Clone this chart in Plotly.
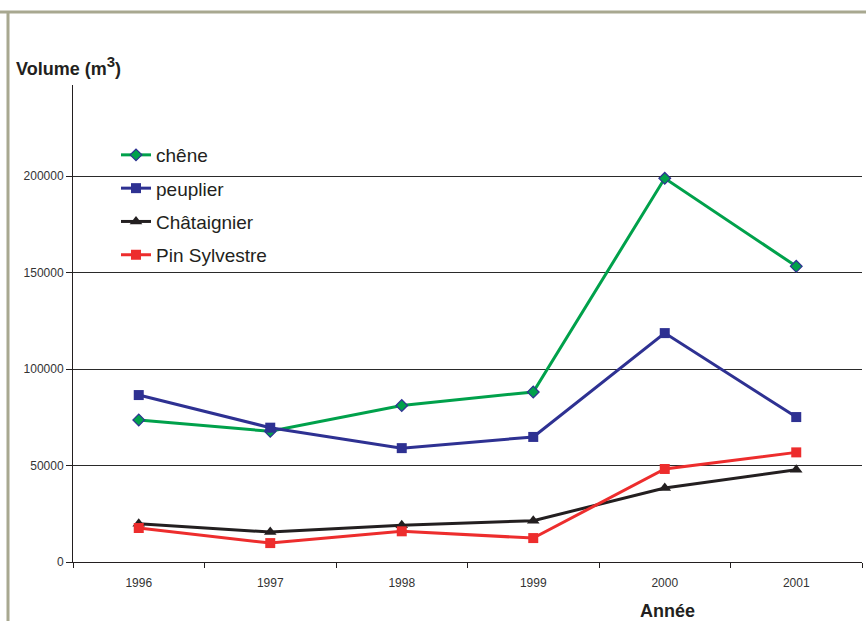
import plotly.graph_objects as go

years = ["1996", "1997", "1998", "1999", "2000", "2001"]
chene = [73600, 67700, 81100, 88100, 198800, 153200]
peuplier = [86500, 69600, 59000, 64800, 118600, 75100]
chataignier = [19800, 15500, 19000, 21400, 38300, 47800]
pin_sylvestre = [17600, 9800, 15900, 12400, 48200, 56800]
y_ticks = [0, 50000, 100000, 150000, 200000]

W, H = 866, 621
L, R, T, B = 73, 4, 85, 59
PW, PH = W - L - R, H - T - B


def px(x):
    return (x - L) / PW


def py(y):
    return (H - B - y) / PH


font = "Liberation Sans, Arial, Helvetica, sans-serif"
txt = "#231f20"

fig = go.Figure()
series = [
    ("chêne", chene, "#00a14b", dict(symbol="diamond", size=9, color="#00a14b",
                                      line=dict(color="#2e3192", width=1.2))),
    ("peuplier", peuplier, "#2e3192", dict(symbol="square", size=10, color="#2e3192")),
    ("Châtaignier", chataignier, "#231f20", dict(symbol="triangle-up", size=11, color="#231f20")),
    ("Pin Sylvestre", pin_sylvestre, "#ed2d2d", dict(symbol="square", size=10, color="#ed2d2d")),
]
for i, (name, vals, col, mk) in enumerate(series):
    fig.add_trace(go.Scatter(x=years, y=vals, name=name, mode="lines+markers",
                             line=dict(color=col, width=3), marker=mk,
                             legendgroup="g%d" % i))

fig.update_layout(
    width=W, height=H,
    margin=dict(l=L, r=R, t=T, b=B),
    paper_bgcolor="white", plot_bgcolor="white",
    font=dict(family=font, color=txt, size=12),
    showlegend=True,
    legend=dict(x=px(116), y=py(136), xanchor="left", yanchor="top",
                bgcolor="rgba(0,0,0,0)", borderwidth=0,
                font=dict(size=19, family=font, color=txt),
                traceorder="grouped", tracegroupgap=5.6, itemwidth=30),
    xaxis=dict(type="category", range=[-0.5, 5.5], showgrid=False,
               showline=True, linecolor="#231f20", linewidth=1,
               ticks="outside", tickson="boundaries", ticklen=5, tickcolor="#231f20",
               ticklabelstandoff=10,
               tickfont=dict(size=12, color="#333333"), zeroline=False, fixedrange=True),
    yaxis=dict(range=[0, PH / 1.93 * 1000], tickvals=y_ticks,
               ticktext=[str(v) for v in y_ticks],
               showgrid=True, gridcolor="#2a2a2a", gridwidth=1,
               showline=True, linecolor="#231f20", linewidth=1,
               ticks="outside", ticklen=6, tickcolor="#231f20",
               tickfont=dict(size=12, color="#333333"), zeroline=False, fixedrange=True),
    shapes=[
        dict(type="rect", xref="paper", yref="paper", layer="between",
             x0=px(101), x1=px(288), y0=py(268), y1=py(140),
             fillcolor="white", line=dict(width=0)),
        dict(type="line", xref="paper", yref="paper",
             x0=px(0), x1=px(W), y0=py(12), y1=py(12),
             line=dict(color="#a8a890", width=3)),
        dict(type="line", xref="paper", yref="paper",
             x0=px(8), x1=px(8), y0=py(11), y1=py(H),
             line=dict(color="#a8a890", width=3)),
    ],
    annotations=[
        dict(text="<b>Volume (m<sup><span style='font-size:15px'>3</span></sup>)</b>",
             xref="paper", yref="paper",
             x=px(14), y=py(66), xanchor="left", yanchor="middle", showarrow=False,
             font=dict(size=18, family=font, color=txt)),
        dict(text="<b>Année</b>", xref="paper", yref="paper",
             x=px(667), y=py(611), xanchor="center", yanchor="middle", showarrow=False,
             font=dict(size=18, family=font, color=txt)),
    ],
)

fig.write_html("out.html")
